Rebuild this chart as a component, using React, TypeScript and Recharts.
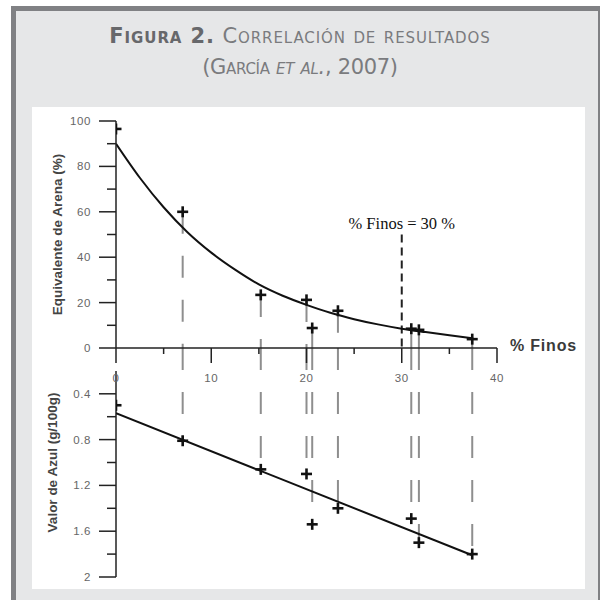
import React from 'react';
import { ComposedChart, XAxis, YAxis, Line, Scatter, ReferenceLine } from 'recharts';

// Muestras (% finos) y resultados
const finos = [0, 7, 15.2, 20, 20.6, 23.3, 31, 31.8, 37.4];
const equivalenteArena = [96.5, 60, 23.4, 21.2, 8.8, 16.4, 8.5, 8.0, 3.9];
const valorAzul = [0.5, 0.81, 1.06, 1.1, 1.54, 1.4, 1.49, 1.7, 1.8];

// Curva de ajuste (Equivalente de Arena)
const curvaFinos = [0, 2.5, 5, 7.5, 10, 12.5, 15, 17.5, 20, 22.5, 25, 27.5, 30, 32.5, 35, 37.5];
const curvaArena = [90, 75, 62, 51, 42, 34.5, 28, 23, 19, 15.5, 12.7, 10.4, 8.5, 7.0, 5.6, 4.3];

// Recta de ajuste (Valor de Azul)
const rectaFinos = [0, 37.4];
const rectaAzul = [0.57, 1.81];

// Ejes
const xTicks = [0, 5, 10, 15, 20, 25, 30, 35, 40];
const xMajor = [0, 10, 20, 30, 40];
const eaTicks = [0, 10, 20, 30, 40, 50, 60, 70, 80, 90, 100];
const eaMajor = [0, 20, 40, 60, 80, 100];
const vaTicks = [0.4, 0.6, 0.8, 1.0, 1.2, 1.4, 1.6, 1.8, 2.0];
const vaMajor = [0.4, 0.8, 1.2, 1.6, 2.0];
const vaAxisStart = 0.2;

const umbralFinos = 30;
const umbralTop = 50;
const umbralLabel = '% Finos = 30 %';

const puntos = finos.map((f, i) => ({ x: f, ea: equivalenteArena[i], va: valorAzul[i] }));
const curva = curvaFinos.map((f, i) => ({ x: f, ea: curvaArena[i] }));
const recta = rectaFinos.map((f, i) => ({ x: f, va: rectaAzul[i] }));

const AXIS = '#222';
const TICKTXT = '#666';
const TICKFONT = 'Liberation Sans, Arial, sans-serif';

const isIn = (arr: number[], v: number) => arr.some((a) => Math.abs(a - v) < 1e-6);

const tickTextProps = {
  fontSize: 11.5,
  fill: TICKTXT,
  fontFamily: TICKFONT,
  letterSpacing: 0.6,
};

const EaTick = (props: any) => {
  const { x, y, payload } = props;
  const v = payload.value;
  const major = isIn(eaMajor, v);
  return (
    <g>
      <line x1={x - (major ? 17 : 9)} x2={x} y1={y} y2={y} stroke={AXIS} strokeWidth={1.5} />
      {major && (
        <text x={x - 25} y={y} dy="0.35em" textAnchor="end" {...tickTextProps}>
          {v}
        </text>
      )}
    </g>
  );
};

const VaTick = (props: any) => {
  const { x, y, payload } = props;
  const v = payload.value;
  const major = isIn(vaMajor, v);
  return (
    <g>
      <line x1={x - (major ? 17 : 9)} x2={x} y1={y} y2={y} stroke={AXIS} strokeWidth={1.5} />
      {major && (
        <text x={x - 25} y={y} dy="0.35em" textAnchor="end" {...tickTextProps}>
          {Number.isInteger(v) ? String(v) : v.toFixed(1)}
        </text>
      )}
    </g>
  );
};

const XTick = (props: any) => {
  const { x, y, payload } = props;
  const v = payload.value;
  const major = isIn(xMajor, v);
  return (
    <g>
      <line x1={x} x2={x} y1={y} y2={y + (major ? 15 : 6)} stroke={AXIS} strokeWidth={1.5} />
      {major && (
        <text x={x} y={y + 30} dy="0.35em" textAnchor="middle" {...tickTextProps}>
          {v}
        </text>
      )}
    </g>
  );
};

const Cross = (props: any) => {
  const { cx, cy } = props;
  if (cx == null || cy == null) return null;
  const s = 5.5;
  return (
    <g>
      <line x1={cx - s} x2={cx + s} y1={cy} y2={cy} stroke="#111" strokeWidth={2.6} />
      <line x1={cx} x2={cx} y1={cy - s} y2={cy + s} stroke="#111" strokeWidth={2.6} />
    </g>
  );
};

const GRAYDASH = '#8e8e8e';
const axisLabelStyle = { textAnchor: 'middle', fontSize: 13.5, fontWeight: 700, fill: '#444', fontFamily: TICKFONT } as any;

const TopChart = () => (
  <ComposedChart width={600} height={600} margin={{ top: 121, right: 103, left: 56, bottom: 212 }}>
    <XAxis
      dataKey="x"
      type="number"
      domain={[0, 40]}
      ticks={xTicks}
      interval={0}
      height={40}
      tickSize={0}
      tickMargin={0}
      tickLine={false}
      axisLine={{ stroke: AXIS, strokeWidth: 1.5 }}
      tick={<XTick />}
      allowDataOverflow
    />
    <YAxis
      dataKey="ea"
      type="number"
      domain={[0, 100]}
      ticks={eaTicks}
      interval={0}
      width={60}
      tickSize={0}
      tickMargin={0}
      tickLine={false}
      axisLine={{ stroke: AXIS, strokeWidth: 1.5 }}
      tick={<EaTick />}
      allowDataOverflow
      label={{
        value: 'Equivalente de Arena (%)',
        angle: -90,
        position: 'insideLeft',
        offset: 1,
        style: axisLabelStyle,
      }}
    />
    {puntos
      .filter((p) => p.x > 0)
      .map((p, i) => (
        <ReferenceLine
          key={'t' + i}
          segment={[
            { x: p.x, y: p.ea },
            { x: p.x, y: 0 },
          ]}
          stroke={GRAYDASH}
          strokeWidth={2}
          strokeDasharray="22 22"
          ifOverflow="visible"
        />
      ))}
    <ReferenceLine
      segment={[
        { x: umbralFinos, y: umbralTop },
        { x: umbralFinos, y: 0 },
      ]}
      stroke="#222"
      strokeWidth={2}
      strokeDasharray="8 5"
      ifOverflow="visible"
      label={{
        value: umbralLabel,
        position: 'top',
        offset: 6,
        fill: '#111',
        fontSize: 16.5,
        fontFamily: 'Liberation Serif, Times New Roman, serif',
      }}
    />
    <Line
      data={curva}
      dataKey="ea"
      type="monotone"
      stroke="#111"
      strokeWidth={2}
      dot={false}
      activeDot={false}
      isAnimationActive={false}
    />
    <Scatter data={puntos} dataKey="ea" shape={<Cross />} isAnimationActive={false} />
  </ComposedChart>
);

const BottomChart = () => (
  <ComposedChart width={600} height={600} margin={{ top: 348, right: 103, left: 56, bottom: 23 }}>
    <XAxis dataKey="x" type="number" domain={[0, 40]} hide allowDataOverflow />
    <YAxis
      dataKey="va"
      type="number"
      domain={[0, 2]}
      reversed
      ticks={vaTicks}
      interval={0}
      width={60}
      tickSize={0}
      tickMargin={0}
      tickLine={false}
      axisLine={false}
      tick={<VaTick />}
      allowDataOverflow
      label={{
        value: 'Valor de Azul (g/100g)',
        angle: -90,
        position: 'insideLeft',
        offset: -4,
        style: axisLabelStyle,
      }}
    />
    <ReferenceLine
      segment={[
        { x: 0, y: vaAxisStart },
        { x: 0, y: 2 },
      ]}
      stroke={AXIS}
      strokeWidth={1.5}
      ifOverflow="visible"
    />
    {puntos
      .filter((p) => p.x > 0)
      .map((p, i) => (
        <ReferenceLine
          key={'b' + i}
          segment={[
            { x: p.x, y: 0 },
            { x: p.x, y: p.va },
          ]}
          stroke={GRAYDASH}
          strokeWidth={2}
          strokeDasharray="22 22"
          ifOverflow="visible"
        />
      ))}
    <Line
      data={recta}
      dataKey="va"
      type="linear"
      stroke="#111"
      strokeWidth={2}
      dot={false}
      activeDot={false}
      isAnimationActive={false}
    />
    <Scatter data={puntos} dataKey="va" shape={<Cross />} isAnimationActive={false} />
  </ComposedChart>
);

export default function App() {
  return (
    <div style={{ position: 'absolute', left: 0, top: 0, width: 600, height: 600, overflow: 'hidden', background: '#fff' }}>
      <div
        style={{
          position: 'absolute',
          left: 11,
          top: 6,
          width: 592,
          height: 600,
          boxSizing: 'border-box',
          border: '5.5px solid #808184',
          background: '#e6e7e8',
        }}
      />
      <div
        style={{
          position: 'absolute',
          left: 0,
          top: 21,
          width: 600,
          textAlign: 'center',
          fontFamily: 'DejaVu Sans, sans-serif',
          fontVariant: 'small-caps',
          fontSize: 21,
          color: '#7a7b7e',
          lineHeight: '31px',
        }}
      >
        <div style={{ letterSpacing: 0.9 }}>
          <span style={{ fontWeight: 700, color: '#67686b' }}>Figura 2.</span> Correlación de resultados
        </div>
        <div style={{ letterSpacing: -0.3 }}>
          (García <i>et al.</i>, 2007)
        </div>
      </div>
      <div style={{ position: 'absolute', left: 32, top: 107, width: 553, height: 482, background: '#fff' }} />
      <div style={{ position: 'absolute', left: 0, top: 0 }}>
        <BottomChart />
      </div>
      <div style={{ position: 'absolute', left: 0, top: 0 }}>
        <TopChart />
      </div>
      <div
        style={{
          position: 'absolute',
          left: 510,
          top: 337,
          fontFamily: TICKFONT,
          fontSize: 16,
          fontWeight: 700,
          letterSpacing: 0.8,
          color: '#3a3a3a',
          lineHeight: '18px',
          whiteSpace: 'nowrap',
        }}
      >
        % Finos
      </div>
    </div>
  );
}
